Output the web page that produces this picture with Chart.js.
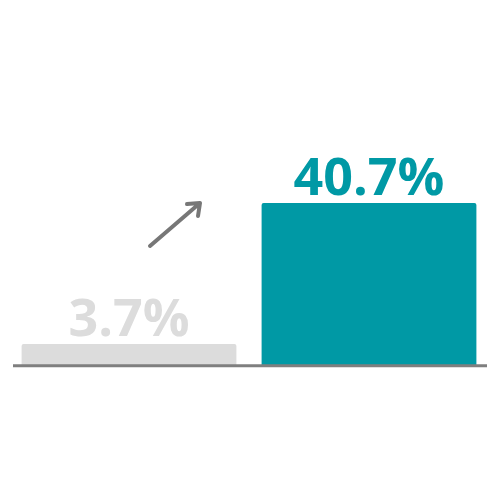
<!DOCTYPE html>
<html>
<head>
<meta charset="utf-8">
<script src="https://cdn.jsdelivr.net/npm/chart.js@4/dist/chart.umd.min.js"></script>
<style>
  html, body { margin: 0; padding: 0; background: #fff; }
  #chart { display: block; }
</style>
</head>
<body>
<canvas id="chart" width="496" height="496"></canvas>
<script>
// chart data
const categories = ['Before', 'After'];
const values = [3.7, 40.7];
const valueLabels = ['3.7%', '40.7%'];
const barColors = ['#dcdcdc', '#0099a5'];
const labelColors = ['#dcdcdc', '#0099a5'];

const AXIS_MIN = -1.8;

// draws the value labels, the baseline and the arrow
const decorations = {
    id: 'decorations',
    afterDatasetsDraw(chart) {
        const ctx = chart.ctx;
        const area = chart.chartArea;
        const meta = chart.getDatasetMeta(0);

        ctx.save();
        ctx.font = 'bold 52px "Open Sans", sans-serif';
        ctx.textAlign = 'center';
        ctx.textBaseline = 'alphabetic';
        meta.data.forEach((bar, i) => {
            ctx.fillStyle = labelColors[i];
            ctx.fillText(valueLabels[i], bar.x, bar.y - 8);
        });

        // baseline
        ctx.strokeStyle = '#7f7f7f';
        ctx.lineWidth = 3;
        ctx.beginPath();
        ctx.moveTo(area.left + 4, area.bottom + 0.7);
        ctx.lineTo(area.right - 2, area.bottom + 0.7);
        ctx.stroke();

        // arrow between the two bars
        const x0 = area.left + 141, y0 = area.bottom - 119;
        const x1 = area.left + 191, y1 = area.bottom - 162;
        ctx.strokeStyle = '#777777';
        ctx.lineWidth = 4;
        ctx.lineCap = 'round';
        ctx.lineJoin = 'round';
        ctx.beginPath();
        ctx.moveTo(x0, y0);
        ctx.lineTo(x1, y1);
        ctx.moveTo(x1 - 13, y1 + 1);
        ctx.lineTo(x1, y1);
        ctx.lineTo(x1 - 2, y1 + 13);
        ctx.stroke();
        ctx.restore();
    }
};

new Chart(document.getElementById('chart'), {
    type: 'bar',
    data: {
        labels: categories,
        datasets: [{
            data: values,
            backgroundColor: barColors,
            base: AXIS_MIN,
            barPercentage: 0.895,
            categoryPercentage: 1,
            borderRadius: 2,
            borderSkipped: 'bottom'
        }]
    },
    options: {
        responsive: false,
        animation: false,
        devicePixelRatio: 1,
        layout: {
            padding: { left: 9, right: 7, top: 0, bottom: 131 }
        },
        scales: {
            x: { display: false },
            y: { display: false, min: AXIS_MIN, max: 94 }
        },
        plugins: {
            legend: { display: false },
            tooltip: { enabled: false }
        }
    },
    plugins: [decorations]
});
</script>
</body>
</html>
